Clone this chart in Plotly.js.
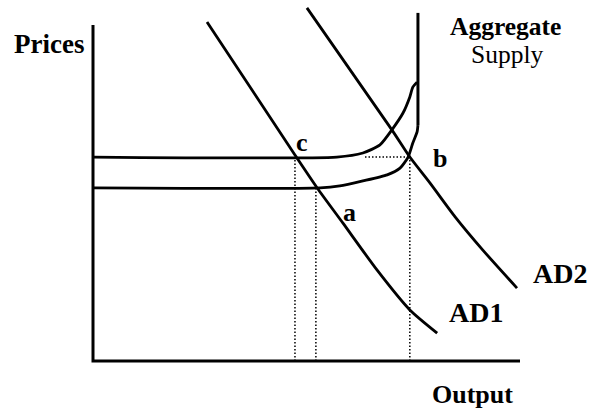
<!DOCTYPE html>
<html>
<head>
<meta charset="utf-8">
<script src="https://cdn.plot.ly/plotly-3.0.1.min.js"></script>
<style>html,body{margin:0;padding:0;background:#fff}#chart{width:594px;height:413px}</style>
</head>
<body>
<div id="chart"></div>
<script>
// Chart units: Output 0..100 (x), Prices 0..100 (y)
var axisX = [0, 0, 100];
var axisY = [100, 0, 0];

var priceLow = 51.5;   // P1
var priceHigh = 60.7;  // P2

// Aggregate supply (lower, original) curve
var as1X = [0, 53.2, 57.8, 63.2, 68.9, 71.9, 73.8, 74.9, 75.9, 76.1];
var as1Y = [51.5, 51.5, 52.1, 53.6, 55.4, 57.4, 60.7, 64.9, 68.2, 70.2];
// Aggregate supply (upper, shifted) curve
var as2X = [0, 57.1, 63.2, 67.2, 70.0, 72.6, 74.2, 74.9, 75.9];
var as2Y = [60.7, 60.7, 61.9, 64.3, 68.8, 73.8, 78.6, 81.5, 83.0];
// Vertical (full capacity) section
var asVertX = [76.1, 76.1];
var asVertY = [70.2, 103.6];

// Aggregate demand curves
var ad1X = [26.7, 47.3, 52.5, 58.5, 66.5, 74.2, 80.6];
var ad1Y = [100.9, 61.3, 51.5, 41.1, 27.1, 15.2, 8.3];
var ad2X = [50.1, 70.0, 74.2, 78.9, 84.8, 91.3, 99.3];
var ad2Y = [105.1, 68.8, 60.7, 53.0, 42.9, 33.0, 21.7];

// Dotted guide lines: output levels at c, a, b
var outC = 47.3, outA = 52.2, outB = 74.2;
var dotHStart = 63.7;

// Labels
var labelText = ["<b>Prices</b>", "<b>Aggregate</b>", "Supply", "<b>c</b>", "<b>b</b>", "<b>a</b>", "<b>AD2</b>", "<b>AD1</b>", "<b>Output</b>"];
var labelX = [-10.2, 96.6, 97.0, 49.0, 81.3, 60.0, 109.4, 89.7, 88.8];
var labelY = [94.3, 99.6, 91.1, 64.9, 60.4, 44.3, 25.9, 14.3, -10.1];
var labelSize = [27, 25.5, 25.5, 26, 26, 26, 28, 28, 26];

var black = '#000';
function solid(x, y, w) {
  return {x: x, y: y, mode: 'lines', line: {color: black, width: w, shape: 'spline', smoothing: 0.6}, hoverinfo: 'skip'};
}
function dotted(x, y) {
  return {x: x, y: y, mode: 'lines', line: {color: black, width: 1.5, dash: '1.5px,2px'}, hoverinfo: 'skip'};
}
var traces = [
  dotted([outC, outC], [0, priceHigh]),
  dotted([outA, outA], [0, priceLow]),
  dotted([outB, outB], [0, priceHigh]),
  dotted([dotHStart, outB], [priceHigh, priceHigh]),
  {x: axisX, y: axisY, mode: 'lines', line: {color: black, width: 3}, hoverinfo: 'skip'},
  solid(as1X, as1Y, 2.8),
  solid(as2X, as2Y, 2.8),
  {x: asVertX, y: asVertY, mode: 'lines', line: {color: black, width: 3}, hoverinfo: 'skip'},
  solid(ad1X, ad1Y, 2.8),
  solid(ad2X, ad2Y, 2.8)
];

var annotations = labelText.map(function (t, i) {
  return {x: labelX[i], y: labelY[i], xref: 'x', yref: 'y', text: t,
    showarrow: false, xanchor: 'center', yanchor: 'middle', borderpad: 0,
    font: {family: 'Liberation Serif, Times New Roman, serif', size: labelSize[i], color: black}};
});

var layout = {
  width: 594, height: 413,
  margin: {l: 0, r: 0, t: 0, b: 0},
  paper_bgcolor: '#fff', plot_bgcolor: '#fff',
  showlegend: false,
  xaxis: {range: [-21.78, 117.33], visible: false, fixedrange: true},
  yaxis: {range: [-15.48, 107.44], visible: false, fixedrange: true},
  annotations: annotations
};
Plotly.newPlot('chart', traces, layout, {staticPlot: true, displayModeBar: false});
</script>
</body>
</html>
